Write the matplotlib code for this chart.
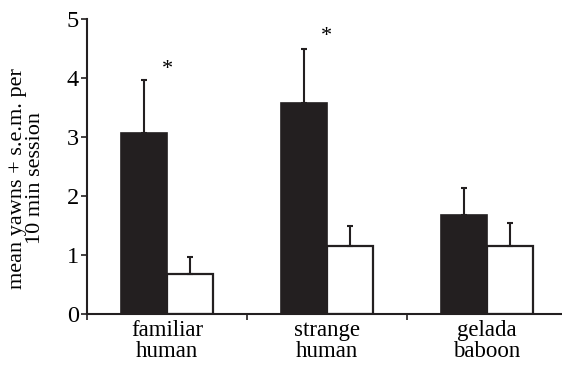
import matplotlib
matplotlib.use('Agg')
import matplotlib.pyplot as plt
import numpy as np

categories = ['familiar\nhuman', 'strange\nhuman', 'gelada\nbaboon']
yawn_black = [3.06, 3.58, 1.68]
sem_black = [0.91, 0.92, 0.46]
yawn_white = [0.68, 1.15, 1.15]
sem_white = [0.28, 0.34, 0.39]
star_y = [4.15, 4.70]

plt.rcParams['font.family'] = ['Liberation Serif', 'DejaVu Serif']
plt.rcParams['font.size'] = 16.5

fig = plt.figure(figsize=(5.62, 3.66), dpi=100)
ax = fig.add_axes([0.155, 0.142, 0.845, 0.806])

x = np.arange(len(categories))
w = 0.2875
ax.bar(x - w / 2, yawn_black, w, color='#231f20', edgecolor='#231f20', linewidth=1.2, zorder=2)
ax.bar(x + w / 2, yawn_white, w, color='white', edgecolor='#231f20', linewidth=1.6, zorder=2)
ax.errorbar(x - w / 2, yawn_black, yerr=[np.zeros(3), sem_black], fmt='none',
            ecolor='#231f20', elinewidth=1.5, capsize=2.5, capthick=1.5, zorder=1)
ax.errorbar(x + w / 2, yawn_white, yerr=[np.zeros(3), sem_white], fmt='none',
            ecolor='#231f20', elinewidth=1.5, capsize=2.5, capthick=1.5, zorder=3)
for i, sy in enumerate(star_y):
  ax.text(x[i], sy, '*', ha='center', va='center', fontsize=16)

ax.set_xlim(-0.5, 2.47)
ax.set_ylim(0, 5)
ax.set_yticks([0, 1, 2, 3, 4, 5])
ax.set_xticks([-0.5, 0.5, 1.5])
ax.set_xticklabels([])
ax.set_xticks(x, minor=True)
ax.set_xticklabels(categories, minor=True, linespacing=1.05)
ax.tick_params(axis='x', which='minor', length=0, pad=4)
ax.tick_params(axis='both', which='major', length=4, width=1.2, color='#231f20', direction='out')
ax.tick_params(axis='y', pad=2, labelsize=17.5)
for s in ['top', 'right']:
  ax.spines[s].set_visible(False)
for s in ['left', 'bottom']:
  ax.spines[s].set_linewidth(1.5)
  ax.spines[s].set_color('#231f20')
ax.set_ylabel('mean yawns + s.e.m. per\n10 min session', linespacing=0.95, fontsize=16)
ax.yaxis.set_label_coords(-0.088, 0.46)

fig.savefig('out.png', dpi=100)
